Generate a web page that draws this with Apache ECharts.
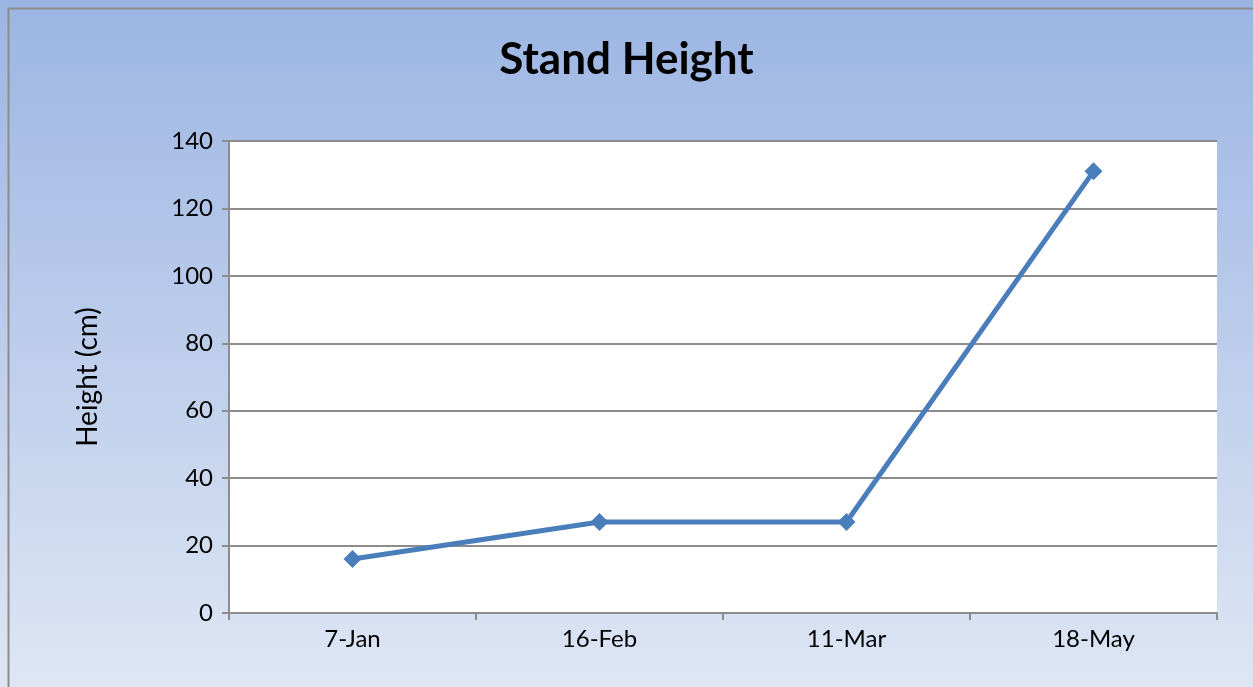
<!DOCTYPE html>
<html><head><meta charset="utf-8">
<script src="https://cdn.jsdelivr.net/npm/echarts@6/dist/echarts.min.js"></script>
<style>html,body{margin:0;padding:0;}#c{width:1253px;height:687px;}</style>
</head><body><div id="c"></div>
<script>
const categories = ['7-Jan', '16-Feb', '11-Mar', '18-May'];
const heights = [16, 27, 27, 131];
const yTicks = { min: 0, max: 140, interval: 20 };

const chart = echarts.init(document.getElementById('c'));
const font = 'Lato, "Open Sans", sans-serif';
chart.setOption({
  backgroundColor: {
    type: 'linear', x: 0, y: 0, x2: 0, y2: 1,
    colorStops: [{ offset: 0, color: '#9bb5e3' }, { offset: 1, color: '#dee6f4' }]
  },
  graphic: [{
    type: 'rect', left: 6, top: 6, shape: { width: 1300, height: 800 },
    style: { fill: 'none', stroke: '#8c8c8c', lineWidth: 2 }, silent: true
  }],
  title: {
    text: 'Stand Height', left: 'center', top: 33,
    textStyle: { fontFamily: font, fontWeight: 'bold', fontSize: 44, color: '#000' }
  },
  grid: { left: 229, right: 36, top: 141, bottom: 74, show: true, backgroundColor: '#fff', borderWidth: 0 },
  xAxis: {
    type: 'category', data: categories, boundaryGap: true,
    axisLine: { lineStyle: { color: '#8c8c8c', width: 2 } },
    axisTick: { show: true, length: 7, alignWithLabel: false, lineStyle: { color: '#8c8c8c', width: 2 } },
    axisLabel: { fontFamily: font, fontSize: 24, color: '#000', margin: 14 }
  },
  yAxis: {
    type: 'value', min: yTicks.min, max: yTicks.max, interval: yTicks.interval,
    name: 'Height (cm)', nameLocation: 'middle', nameGap: 127, nameRotate: 90,
    nameTextStyle: { fontFamily: font, fontSize: 28, color: '#000' },
    axisLine: { show: true, lineStyle: { color: '#8c8c8c', width: 2 } },
    axisTick: { show: true, length: 7, lineStyle: { color: '#8c8c8c', width: 2 } },
    axisLabel: { fontFamily: font, fontSize: 24, color: '#000', margin: 16 },
    splitLine: { show: true, lineStyle: { color: '#8c8c8c', width: 2 } }
  },
  series: [{
    type: 'line', data: heights, symbol: 'diamond', symbolSize: 18,
    lineStyle: { color: '#4a7ebb', width: 5 },
    itemStyle: { color: '#4a7ebb' }, animation: false
  }]
});
</script></body></html>
